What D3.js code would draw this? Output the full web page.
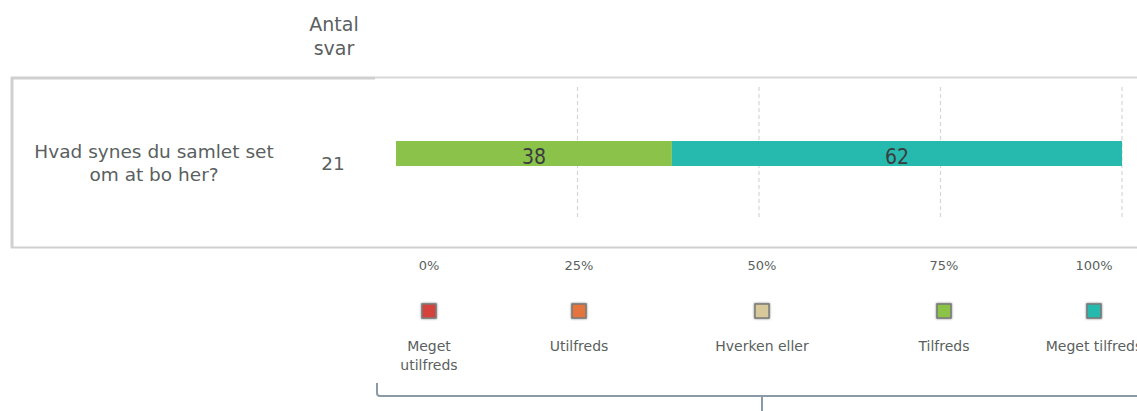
<!DOCTYPE html>
<html>
<head>
<meta charset="utf-8">
<script src="https://cdn.jsdelivr.net/npm/d3@7"></script>
<style>
  body { margin: 0; background: #fff; }
  svg { display: block; font-family: "DejaVu Sans", sans-serif; }
</style>
</head>
<body>
<svg id="chart" width="1137" height="411"></svg>
<script>
// Data
const question = ["Hvad synes du samlet set", "om at bo her?"];
const answers = 21;
const categories = ["Meget utilfreds", "Utilfreds", "Hverken eller", "Tilfreds", "Meget tilfreds"];
const values = [0, 0, 0, 38, 62];
const colors = ["#d5433b", "#e4733e", "#d8c99a", "#8bc34a", "#26b9ad"];
const ticks = [0, 25, 50, 75, 100];
const tickLabels = ["0%", "25%", "50%", "75%", "100%"];

const svg = d3.select("#chart");
const textColor = "#5a5f60";

// x scale for the bar area
const x = d3.scaleLinear().domain([0, 100]).range([396, 1122]);

// legend / tick label columns (html table cells in the original)
const colX = d3.scaleOrdinal().domain(d3.range(5)).range([429, 579, 762, 944, 1094]);

// Column header
svg.append("text")
  .attr("text-anchor", "middle")
  .style("font-size", "19px").attr("fill", textColor)
  .selectAll("tspan")
  .data(["Antal", "svar"])
  .join("tspan")
  .attr("x", 334)
  .attr("y", (d, i) => 31 + i * 24)
  .text(d => d);

// Row box
svg.append("line")
  .attr("x1", 11).attr("x2", 375).attr("y1", 78).attr("y2", 78)
  .attr("stroke", "#d0d0d0").attr("stroke-width", 3);
svg.append("line")
  .attr("x1", 375).attr("x2", 1137).attr("y1", 77.5).attr("y2", 77.5)
  .attr("stroke", "#d8d8d8").attr("stroke-width", 2);
svg.append("line")
  .attr("x1", 11).attr("x2", 1137).attr("y1", 247.5).attr("y2", 247.5)
  .attr("stroke", "#d0d0d0").attr("stroke-width", 2);
svg.append("line")
  .attr("x1", 12).attr("x2", 12).attr("y1", 77).attr("y2", 248)
  .attr("stroke", "#d0d0d0").attr("stroke-width", 3);

// Question text
svg.append("text")
  .attr("text-anchor", "middle")
  .style("font-size", "18.5px").attr("fill", textColor)
  .selectAll("tspan")
  .data(question)
  .join("tspan")
  .attr("x", 154)
  .attr("y", (d, i) => 158 + i * 23)
  .text(d => d);

svg.append("text")
  .attr("x", 333).attr("y", 170)
  .attr("text-anchor", "middle")
  .style("font-size", "18.5px").attr("fill", textColor)
  .text(answers);

// Grid lines
svg.append("g")
  .selectAll("line")
  .data(ticks.filter(t => t > 0))
  .join("line")
  .attr("x1", d => x(d)).attr("x2", d => x(d))
  .attr("y1", 87).attr("y2", 218)
  .attr("stroke", "#d6d6d6")
  .attr("stroke-width", 1.2)
  .attr("stroke-dasharray", "4,3");

// Stacked bar
let acc = 0;
const segs = values.map((v, i) => {
  const s = { i, v, x0: acc, x1: acc + v };
  acc += v;
  return s;
}).filter(d => d.v > 0);

const bar = svg.append("g");
bar.selectAll("rect")
  .data(segs)
  .join("rect")
  .attr("x", d => x(d.x0))
  .attr("width", d => x(d.x1) - x(d.x0))
  .attr("y", 141)
  .attr("height", 25)
  .attr("fill", d => colors[d.i]);

bar.selectAll("text")
  .data(segs)
  .join("text")
  .attr("x", d => (x(d.x0) + x(d.x1)) / 2)
  .attr("y", 164)
  .attr("text-anchor", "middle")
  .style("font-size", "21px")
  .style("font-family", "'DejaVu Sans Condensed', 'DejaVu Sans', sans-serif")
  .attr("fill", "#3a3d40")
  .text(d => d.v);

// Tick labels
svg.append("g")
  .selectAll("text")
  .data(tickLabels)
  .join("text")
  .attr("x", (d, i) => colX(i))
  .attr("y", 270)
  .attr("text-anchor", "middle")
  .style("font-size", "13px").attr("fill", textColor)
  .text(d => d);

// Legend
const defs = svg.append("defs");
defs.append("filter").attr("id", "sh")
  .attr("x", "-50%").attr("y", "-50%").attr("width", "200%").attr("height", "200%")
  .append("feDropShadow")
  .attr("dx", 0).attr("dy", 0).attr("stdDeviation", 1.3)
  .attr("flood-color", "#555").attr("flood-opacity", 0.8);

const legend = svg.append("g");
legend.selectAll("rect")
  .data(categories)
  .join("rect")
  .attr("x", (d, i) => colX(i) - 7)
  .attr("y", 304)
  .attr("width", 14).attr("height", 14)
  .attr("fill", (d, i) => colors[i])
  .attr("stroke", "#7a7a7a").attr("stroke-width", 1.5)
  .attr("filter", "url(#sh)");

legend.selectAll("text")
  .data(categories)
  .join("text")
  .attr("text-anchor", "middle")
  .style("font-size", "14px").attr("fill", textColor)
  .each(function(d, i) {
    const lines = i === 0 ? ["Meget", "utilfreds"] : [d];
    d3.select(this).selectAll("tspan")
      .data(lines)
      .join("tspan")
      .attr("x", colX(i))
      .attr("y", (l, j) => 351 + j * 19)
      .text(l => l);
  });

// Bracket at the bottom
svg.append("path")
  .attr("d", "M377,383 L377,393 Q377,396 380,396 L1137,396 M762,396 L762,411")
  .attr("fill", "none")
  .attr("stroke", "#8c9aa6")
  .attr("stroke-width", 2);
</script>
</body>
</html>
